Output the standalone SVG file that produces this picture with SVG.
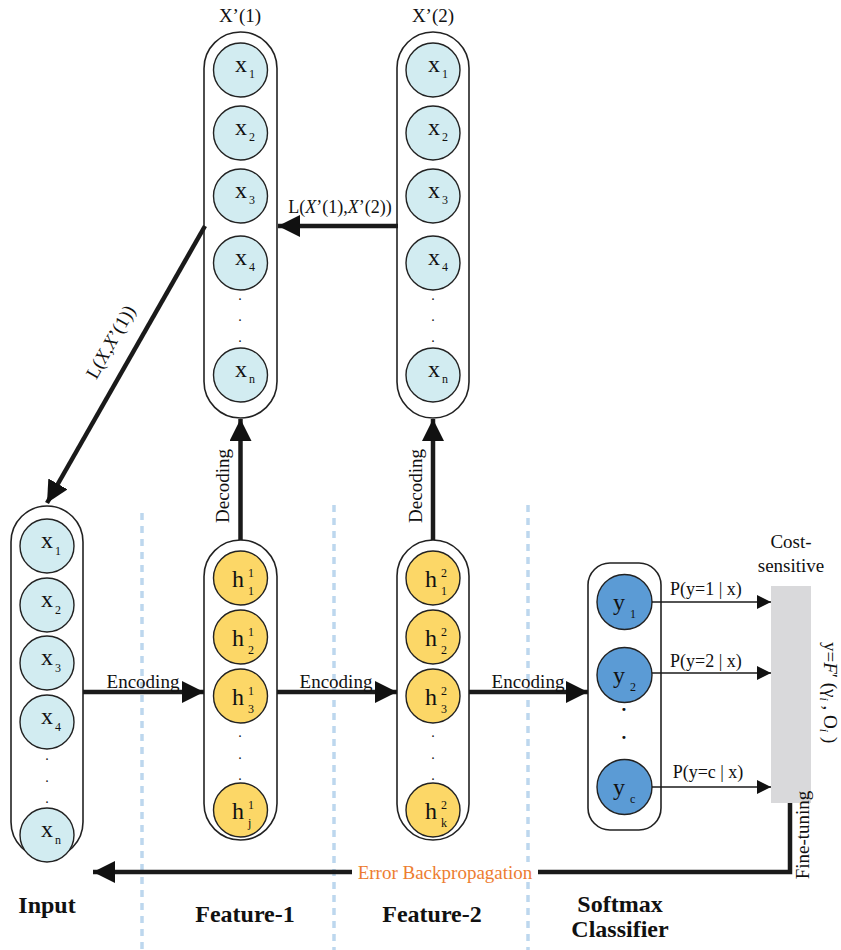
<svg xmlns="http://www.w3.org/2000/svg" width="841" height="950" viewBox="0 0 841 950">
  <style>
    text { font-family: "Liberation Serif", "Times New Roman", serif; fill: #111; }
    .cap { fill: #fff; stroke: #222; stroke-width: 1.6; }
    .cx { fill: #D2ECF1; stroke: #222; stroke-width: 1.4; }
    .ch { fill: #FCD767; stroke: #222; stroke-width: 1.4; }
    .cy { fill: #5B9BD5; stroke: #222; stroke-width: 1.4; }
    .v { font-size: 24px; }
    .s { font-size: 12px; }
    .dot { font-size: 14px; }
    .lbl { font-size: 19px; }
    .pl { font-size: 18px; }
    .ttl { font-size: 24px; font-weight: bold; }
    .thick { stroke: #1a1a1a; stroke-width: 4.5; fill: none; }
    .thin { stroke: #1a1a1a; stroke-width: 1.6; fill: none; }
    .sep { stroke: #BDD7EE; stroke-width: 3.5; stroke-dasharray: 7 6; fill: none; }
  </style>
  <defs>
    <marker id="big" viewBox="0 0 10 10" refX="10" refY="5" markerUnits="userSpaceOnUse" markerWidth="22" markerHeight="22" orient="auto">
      <path d="M0,0 L10,5 L0,10 Z" fill="#111"/>
    </marker>
    <marker id="small" viewBox="0 0 10 10" refX="10" refY="5" markerUnits="userSpaceOnUse" markerWidth="16" markerHeight="14" orient="auto">
      <path d="M0,0 L10,5 L0,10 Z" fill="#111"/>
    </marker>
  </defs>

  <!-- layer separators -->
  <g id="separators">
    <line class="sep" x1="142" y1="513" x2="142" y2="950"/>
    <line class="sep" x1="334" y1="505" x2="334" y2="950"/>
    <line class="sep" x1="528" y1="505" x2="528" y2="950"/>
  </g>

  <!-- reconstruction X'(1) -->
  <g id="recon1">
    <text class="lbl" x="240" y="22" text-anchor="middle">X’(1)</text>
    <rect class="cap" x="204" y="32" width="73" height="386" rx="36.5"/>
    <circle class="cx" cx="240.5" cy="70" r="27"/>
    <text class="v" x="235" y="72">x</text><text class="s" x="249" y="78">1</text>
    <circle class="cx" cx="240.5" cy="133" r="27"/>
    <text class="v" x="235" y="135">x</text><text class="s" x="249" y="141">2</text>
    <circle class="cx" cx="240.5" cy="196" r="27"/>
    <text class="v" x="235" y="198">x</text><text class="s" x="249" y="204">3</text>
    <circle class="cx" cx="240.5" cy="263" r="27"/>
    <text class="v" x="235" y="265">x</text><text class="s" x="249" y="271">4</text>
    <text class="dot" x="240" y="300" text-anchor="middle">.</text>
    <text class="dot" x="240" y="321" text-anchor="middle">.</text>
    <text class="dot" x="240" y="342" text-anchor="middle">.</text>
    <circle class="cx" cx="240.5" cy="375" r="27"/>
    <text class="v" x="235" y="377">x</text><text class="s" x="249" y="383">n</text>
  </g>

  <!-- reconstruction X'(2) -->
  <g id="recon2">
    <text class="lbl" x="433" y="22" text-anchor="middle">X’(2)</text>
    <rect class="cap" x="397" y="32" width="72" height="386" rx="36"/>
    <circle class="cx" cx="433" cy="70" r="27"/>
    <text class="v" x="428" y="72">x</text><text class="s" x="442" y="78">1</text>
    <circle class="cx" cx="433" cy="133" r="27"/>
    <text class="v" x="428" y="135">x</text><text class="s" x="442" y="141">2</text>
    <circle class="cx" cx="433" cy="196" r="27"/>
    <text class="v" x="428" y="198">x</text><text class="s" x="442" y="204">3</text>
    <circle class="cx" cx="433" cy="263" r="27"/>
    <text class="v" x="428" y="265">x</text><text class="s" x="442" y="271">4</text>
    <text class="dot" x="433" y="300" text-anchor="middle">.</text>
    <text class="dot" x="433" y="321" text-anchor="middle">.</text>
    <text class="dot" x="433" y="342" text-anchor="middle">.</text>
    <circle class="cx" cx="433" cy="375" r="27"/>
    <text class="v" x="428" y="377">x</text><text class="s" x="442" y="383">n</text>
  </g>

  <!-- input layer -->
  <g id="input">
    <rect class="cap" x="11" y="506" width="72" height="352" rx="36"/>
    <circle class="cx" cx="47" cy="546" r="27"/>
    <text class="v" x="41" y="548">x</text><text class="s" x="55" y="555">1</text>
    <circle class="cx" cx="47" cy="605" r="27"/>
    <text class="v" x="41" y="607">x</text><text class="s" x="55" y="614">2</text>
    <circle class="cx" cx="47" cy="663" r="27"/>
    <text class="v" x="41" y="665">x</text><text class="s" x="55" y="672">3</text>
    <circle class="cx" cx="47" cy="722" r="27"/>
    <text class="v" x="41" y="724">x</text><text class="s" x="55" y="731">4</text>
    <text class="dot" x="47" y="760" text-anchor="middle">.</text>
    <text class="dot" x="47" y="782" text-anchor="middle">.</text>
    <text class="dot" x="47" y="803" text-anchor="middle">.</text>
    <circle class="cx" cx="47" cy="835" r="27"/>
    <text class="v" x="41" y="837">x</text><text class="s" x="55" y="844">n</text>
    <text class="ttl" x="47" y="913" text-anchor="middle">Input</text>
  </g>

  <!-- hidden layer 1 -->
  <g id="feature1">
    <rect class="cap" x="204" y="540" width="73" height="300" rx="36.5"/>
    <circle class="ch" cx="240.5" cy="578" r="27"/>
    <text class="v" x="232" y="587">h</text><text class="s" x="248" y="577">1</text><text class="s" x="248" y="595">1</text>
    <circle class="ch" cx="240.5" cy="637" r="27"/>
    <text class="v" x="232" y="646">h</text><text class="s" x="248" y="636">1</text><text class="s" x="248" y="654">2</text>
    <circle class="ch" cx="240.5" cy="696" r="27"/>
    <text class="v" x="232" y="705">h</text><text class="s" x="248" y="695">1</text><text class="s" x="248" y="713">3</text>
    <text class="dot" x="240" y="737" text-anchor="middle">.</text>
    <text class="dot" x="240" y="759" text-anchor="middle">.</text>
    <text class="dot" x="240" y="780" text-anchor="middle">.</text>
    <circle class="ch" cx="240.5" cy="810" r="27"/>
    <text class="v" x="232" y="819">h</text><text class="s" x="248" y="809">1</text><text class="s" x="248" y="827">j</text>
    <text class="ttl" x="245" y="922" text-anchor="middle">Feature-1</text>
  </g>

  <!-- hidden layer 2 -->
  <g id="feature2">
    <rect class="cap" x="397" y="540" width="72" height="300" rx="36"/>
    <circle class="ch" cx="433" cy="578" r="27"/>
    <text class="v" x="425" y="587">h</text><text class="s" x="441" y="577">2</text><text class="s" x="441" y="595">1</text>
    <circle class="ch" cx="433" cy="637" r="27"/>
    <text class="v" x="425" y="646">h</text><text class="s" x="441" y="636">2</text><text class="s" x="441" y="654">2</text>
    <circle class="ch" cx="433" cy="696" r="27"/>
    <text class="v" x="425" y="705">h</text><text class="s" x="441" y="695">2</text><text class="s" x="441" y="713">3</text>
    <text class="dot" x="433" y="737" text-anchor="middle">.</text>
    <text class="dot" x="433" y="759" text-anchor="middle">.</text>
    <text class="dot" x="433" y="780" text-anchor="middle">.</text>
    <circle class="ch" cx="433" cy="810" r="27"/>
    <text class="v" x="425" y="819">h</text><text class="s" x="441" y="809">2</text><text class="s" x="441" y="827">k</text>
    <text class="ttl" x="432" y="922" text-anchor="middle">Feature-2</text>
  </g>

  <!-- softmax output layer -->
  <g id="softmax">
    <rect class="cap" x="588" y="563" width="73" height="267" rx="22"/>
    <circle class="cy" cx="624.5" cy="602" r="27.5"/>
    <text class="v" x="613" y="610">y</text><text class="s" x="630" y="618">1</text>
    <circle class="cy" cx="624.5" cy="675" r="27.5"/>
    <text class="v" x="613" y="683">y</text><text class="s" x="630" y="691">2</text>
    <text class="lbl" x="624" y="716" text-anchor="middle" font-weight="bold">·</text>
    <text class="lbl" x="624" y="744" text-anchor="middle" font-weight="bold">·</text>
    <text class="lbl" x="624" y="772" text-anchor="middle" font-weight="bold">·</text>
    <circle class="cy" cx="624.5" cy="787" r="27.5"/>
    <text class="v" x="613" y="795">y</text><text class="s" x="630" y="803">c</text>
    <text class="ttl" x="620" y="912" text-anchor="middle">Softmax</text>
    <text class="ttl" x="620" y="937" text-anchor="middle">Classifier</text>
  </g>

  <!-- cost-sensitive block -->
  <g id="cost">
    <text class="lbl" x="791" y="548" text-anchor="middle">Cost-</text>
    <text class="lbl" x="791" y="572" text-anchor="middle">sensitive</text>
    <rect x="771" y="586" width="40" height="217" fill="#D9D9DB"/>
    <text class="lbl" transform="translate(824,642) rotate(90)">y=<tspan font-style="italic">F</tspan>′ (γ<tspan class="s" font-style="italic" dy="4">i</tspan><tspan dy="-4"> , O</tspan><tspan class="s" font-style="italic" dy="4">i</tspan><tspan dy="-4"> )</tspan></text>
  </g>

  <!-- connectors -->
  <g id="connectors">
    <line class="thick" x1="398" y1="226" x2="278" y2="226" marker-end="url(#big)"/>
    <line class="thick" x1="205" y1="226" x2="47" y2="503" marker-end="url(#big)"/>
    <line class="thick" x1="240.5" y1="540" x2="240.5" y2="419" marker-end="url(#big)"/>
    <line class="thick" x1="433" y1="540" x2="433" y2="419" marker-end="url(#big)"/>
    <line class="thick" x1="83" y1="692" x2="204" y2="692" marker-end="url(#big)"/>
    <line class="thick" x1="277" y1="692" x2="397" y2="692" marker-end="url(#big)"/>
    <line class="thick" x1="469" y1="692" x2="588" y2="692" marker-end="url(#big)"/>
    <line class="thin" x1="652" y1="602" x2="771" y2="602" marker-end="url(#small)"/>
    <line class="thin" x1="652" y1="673" x2="771" y2="673" marker-end="url(#small)"/>
    <line class="thin" x1="652" y1="787" x2="771" y2="787" marker-end="url(#small)"/>
    <polyline class="thick" points="790,803 790,872 93,872" stroke-width="3.5" marker-end="url(#big)"/>
  </g>

  <!-- connector labels -->
  <g id="labels">
    <text class="pl" x="340" y="213" text-anchor="middle">L(<tspan font-style="italic">X</tspan>’(1),<tspan font-style="italic">X</tspan>’(2))</text>
    <text class="lbl" transform="translate(116,345) rotate(-60.5)" text-anchor="middle">L(<tspan font-style="italic">X</tspan>,<tspan font-style="italic">X</tspan>’(1))</text>
    <text class="lbl" transform="translate(229,486) rotate(-90)" text-anchor="middle">Decoding</text>
    <text class="lbl" transform="translate(422,486) rotate(-90)" text-anchor="middle">Decoding</text>
    <text class="lbl" x="143" y="688" text-anchor="middle">Encoding</text>
    <text class="lbl" x="336" y="688" text-anchor="middle">Encoding</text>
    <text class="lbl" x="528" y="688" text-anchor="middle">Encoding</text>
    <text class="pl" x="706" y="595" text-anchor="middle">P(y=1 | x)</text>
    <text class="pl" x="706" y="667" text-anchor="middle">P(y=2 | x)</text>
    <text class="pl" x="708" y="778" text-anchor="middle">P(y=c | x)</text>
    <text class="lbl" transform="translate(809,835) rotate(-90)" text-anchor="middle" font-size="15">Fine-tuning</text>
    <rect x="352" y="862" width="186" height="20" fill="#fff"/>
    <text class="lbl" x="445" y="879" text-anchor="middle" style="fill:#ED7D31">Error Backpropagation</text>
  </g>
</svg>
